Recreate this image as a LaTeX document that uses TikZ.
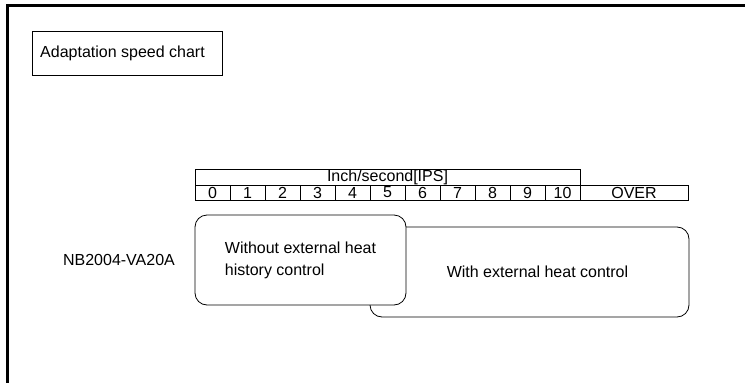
\documentclass[tikz,border=0pt]{standalone}
\usepackage{fontspec}
\setmainfont{Liberation Sans}
\usetikzlibrary{positioning}

\begin{document}
\begin{tikzpicture}[
    x=1pt, y=-1pt,
    txt/.style={font=\fontsize{16}{22}\selectfont, inner sep=0pt},
    titlebox/.style={rectangle, draw, txt, minimum width=190pt, minimum height=44pt, line width=0.8pt},
    cell/.style={rectangle, draw, txt, minimum width=35pt, minimum height=15pt, outer sep=0pt, anchor=north west, line width=0.8pt},
    heatbox/.style={rectangle, draw, txt, rounded corners=12pt, minimum height=90pt, line width=0.8pt}
]
\useasboundingbox (0,0) rectangle (745,383);

% Outer frame
\draw[line width=3pt] (7,383) -- (7,5) -- (745,5);

% Title
\node[titlebox] (title) at (127,53) {Adaptation speed chart\hspace*{9pt}};

% Speed scale
\node[cell, minimum width=385pt, minimum height=16pt] (ips) at (195,169) {Inch/second[IPS]};
\foreach \v in {0,...,10}
    \node[cell] (d\v) at ({195+35*\v},185) {\v};
\node[cell, minimum width=108pt, right=0pt of d10] (over) {OVER};

% Model and control ranges
\node[txt] (model) at (119,260) {NB2004-VA20A};
\node[heatbox, minimum width=319pt] (with) at (529.5,272) {\hspace*{16pt}With external heat control};
\node[heatbox, fill=white, minimum width=211pt, align=left] (without) at (300.5,260) {Without external heat\\history control};

\end{tikzpicture}
\end{document}
